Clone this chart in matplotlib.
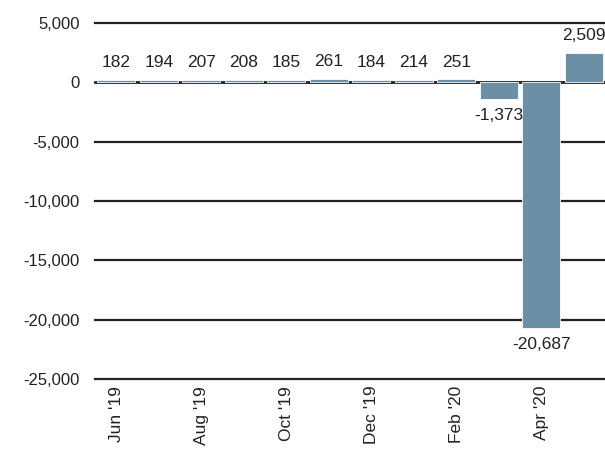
"""Monthly change bar chart, Jun '19 - May '20."""
import matplotlib
matplotlib.use("Agg")
import matplotlib.pyplot as plt
import numpy as np

plt.rcParams["font.family"] = ["Liberation Sans", "DejaVu Sans"]

_BAR = "#6b8fa5"
_GRID = "#222222"
_TEXT = "#222222"

months = ["Jun '19", "Jul '19", "Aug '19", "Sep '19", "Oct '19", "Nov '19",
          "Dec '19", "Jan '20", "Feb '20", "Mar '20", "Apr '20", "May '20"]
values = [182, 194, 207, 208, 185, 261, 184, 214, 251, -1373, -20687, 2509]
label_months = ["Jun '19", "Aug '19", "Oct '19", "Dec '19", "Feb '20", "Apr '20"]
y_ticks = [5000, 0, -5000, -10000, -15000, -20000, -25000]

fig = plt.figure(figsize=(6.05, 4.5), dpi=100)
ax = fig.add_axes([0.157, 0.158, 0.843, 0.791])

# gridlines drawn by hand so the edge ones are not half clipped
for t in y_ticks:
    ax.axhline(t, color=_GRID, lw=2.0 if t == 0 else 1.6, zorder=1, clip_on=False)

x = np.arange(len(months))
ax.bar(x, values, width=0.9, color=_BAR, edgecolor="white", linewidth=0.6, zorder=2)

for xi, v in zip(x, values):
    off = 7 if v >= 0 else -7
    ax.annotate(f"{v:,}", (xi, v), textcoords="offset points", xytext=(0, off),
                ha="center", va="bottom" if v >= 0 else "top",
                fontsize=12.5, color=_TEXT)

ax.set_xlim(-0.5, 11.5)
ax.set_ylim(-25000, 5000)
ax.set_yticks(y_ticks)
ax.set_yticklabels([f"{t:,}" for t in y_ticks], fontsize=12, color=_TEXT)

ax.set_xticks([months.index(m) for m in label_months])
ax.set_xticklabels(label_months, rotation=90, fontsize=12.5, color=_TEXT)
ax.tick_params(axis="both", length=0)
ax.tick_params(axis="x", pad=5)
ax.tick_params(axis="y", pad=11)

for s in ax.spines.values():
    s.set_visible(False)

fig.savefig("out.png", dpi=100)
